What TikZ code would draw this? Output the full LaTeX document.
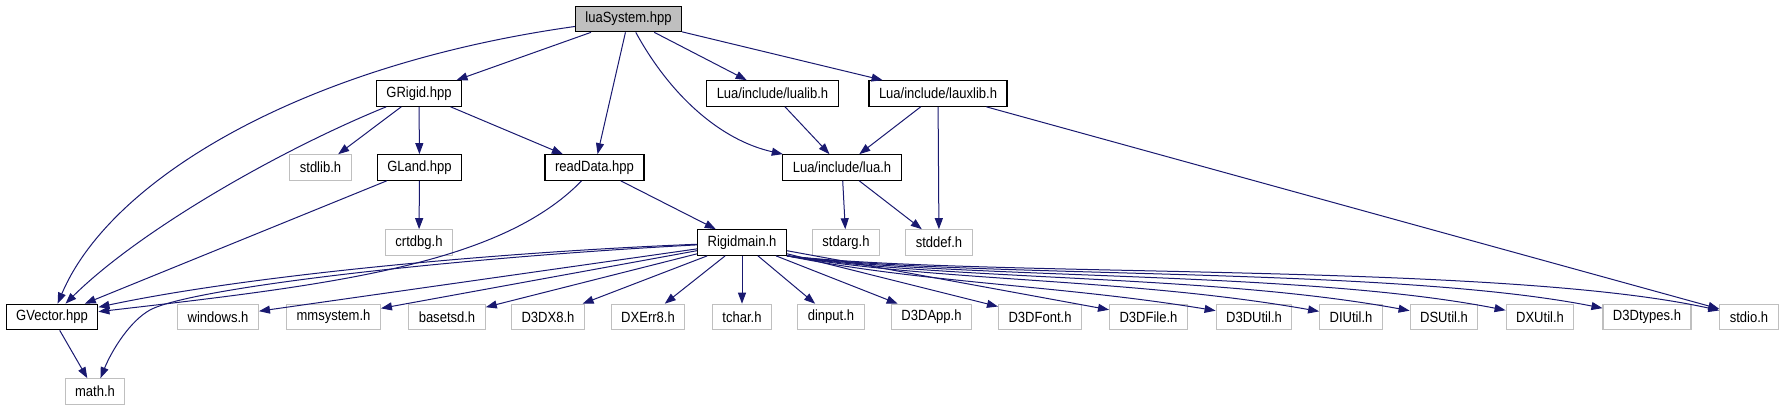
\documentclass[tikz,border=0pt]{standalone}
\usepackage{fontspec}
\setmainfont{Liberation Sans}[FakeStretch=0.88]
\usetikzlibrary{arrows.meta}
\definecolor{edgeblue}{HTML}{191970}
\definecolor{sysgray}{HTML}{BFBFBF}
\definecolor{focusgray}{HTML}{BFBFBF}
\tikzset{
  filebox/.style={draw=black,fill=white,line width=1.2pt,minimum height=25.5pt,inner xsep=10pt,inner ysep=0pt,font=\fontsize{14.8}{17}\selectfont},
  sysbox/.style={filebox,draw=sysgray,line width=1.1pt},
  rootbox/.style={filebox,fill=focusgray},
  dep/.style={-{Triangle[length=11pt,width=8pt]},line width=1pt,draw=edgeblue}
}

\begin{document}
\begin{tikzpicture}[x=1pt,y=-1pt]
  \useasboundingbox (0,0) rectangle (1785,411);

  % rank 0
  \node[rootbox] (luasystem) at (628.5,19) {luaSystem.hpp};
  % rank 1
  \node[filebox] (grigid) at (419,93.5) {GRigid.hpp};
  \node[filebox] (lualib) at (772.5,93.5) {Lua/include/lualib.h};
  \node[filebox] (lauxlib) at (938,93.5) {Lua/include/lauxlib.h};
  % rank 2
  \node[sysbox] (stdlib) at (320.5,167.5) {stdlib.h};
  \node[filebox] (gland) at (419.5,167.5) {GLand.hpp};
  \node[filebox] (readdata) at (594.5,167.5) {readData.hpp};
  \node[filebox] (luah) at (842,167.5) {Lua/include/lua.h};
  % rank 3
  \node[sysbox] (crtdbg) at (419,242.5) {crtdbg.h};
  \node[filebox] (rigidmain) at (742,242.5) {Rigidmain.h};
  \node[sysbox] (stdarg) at (846,242.5) {stdarg.h};
  \node[sysbox] (stddef) at (939,242.5) {stddef.h};
  % rank 4
  \node[filebox] (gvector) at (52,317) {GVector.hpp};
  \node[sysbox] (windows) at (218,317) {windows.h};
  \node[sysbox] (mmsystem) at (333.5,317) {mmsystem.h};
  \node[sysbox] (basetsd) at (447,317) {basetsd.h};
  \node[sysbox] (dxeight) at (548,317) {D3DX8.h};
  \node[sysbox] (dxerr) at (648,317) {DXErr8.h};
  \node[sysbox] (tchar) at (742,317) {tchar.h};
  \node[sysbox] (dinput) at (831,317) {dinput.h};
  \node[sysbox] (dapp) at (931.5,317) {D3DApp.h};
  \node[sysbox] (dfont) at (1040,317) {D3DFont.h};
  \node[sysbox] (dfile) at (1148.5,317) {D3DFile.h};
  \node[sysbox] (dutil) at (1254,317) {D3DUtil.h};
  \node[sysbox] (diutil) at (1351,317) {DIUtil.h};
  \node[sysbox] (dsutil) at (1444,317) {DSUtil.h};
  \node[sysbox] (dxutil) at (1540,317) {DXUtil.h};
  \node[sysbox] (dtypes) at (1647,317) {D3Dtypes.h};
  \node[sysbox] (stdio) at (1749,317) {stdio.h};
  % rank 5
  \node[sysbox] (mathh) at (95,391.5) {math.h};

  % luaSystem.hpp
  \draw[dep] (luasystem) .. controls (300,65) and (110,180) .. (gvector);
  \draw[dep] (luasystem) -- (grigid);
  \draw[dep] (luasystem) -- (readdata);
  \draw[dep] (luasystem) .. controls (670,95) and (720,140) .. (luah);
  \draw[dep] (luasystem) -- (lualib);
  \draw[dep] (luasystem) -- (lauxlib);

  % GRigid.hpp, GLand.hpp
  \draw[dep] (grigid) .. controls (280,150) and (140,230) .. (gvector);
  \draw[dep] (grigid) -- (stdlib);
  \draw[dep] (grigid) -- (gland);
  \draw[dep] (grigid) -- (readdata);
  \draw[dep] (gland) -- (gvector);
  \draw[dep] (gland) -- (crtdbg);

  % readData.hpp
  \draw[dep] (readdata) .. controls (500,265) and (330,285) .. (gvector);
  \draw[dep] (readdata) -- (rigidmain);

  % lua headers
  \draw[dep] (lualib) -- (luah);
  \draw[dep] (lauxlib) -- (luah);
  \draw[dep] (lauxlib) -- (stddef);
  \draw[dep] (lauxlib) -- (stdio);
  \draw[dep] (luah) -- (stdarg);
  \draw[dep] (luah) -- (stddef);

  % Rigidmain.h
  \draw[dep] (rigidmain) .. controls (500,252) and (250,275) .. (gvector);
  \draw[dep] (rigidmain) .. controls (450,258) and (190,288) .. (150,310)
                         .. controls (130,321) and (112,350) .. (mathh);
  \draw[dep] (rigidmain) -- (windows);
  \draw[dep] (rigidmain) -- (mmsystem);
  \draw[dep] (rigidmain) -- (basetsd);
  \draw[dep] (rigidmain) -- (dxeight);
  \draw[dep] (rigidmain) -- (dxerr);
  \draw[dep] (rigidmain) -- (tchar);
  \draw[dep] (rigidmain) -- (dinput);
  \draw[dep] (rigidmain) -- (dapp);
  \draw[dep] (rigidmain) -- (dfont);
  \draw[dep] (rigidmain) -- (dfile);
  \draw[dep] (rigidmain.south east) .. controls (920,283) and (1060,285) .. (dutil);
  \draw[dep] (rigidmain.south east) .. controls (940,282) and (1130,278) .. (diutil);
  \draw[dep] (rigidmain.south east) .. controls (950,281) and (1210,274) .. (dsutil);
  \draw[dep] (rigidmain.south east) .. controls (960,280) and (1300,270) .. (dxutil);
  \draw[dep] (rigidmain.south east) .. controls (970,279) and (1390,266) .. (dtypes);
  \draw[dep] (rigidmain.south east) .. controls (980,278) and (1500,262) .. (stdio);

  % GVector.hpp
  \draw[dep] (gvector) -- (mathh);
\end{tikzpicture}
\end{document}
